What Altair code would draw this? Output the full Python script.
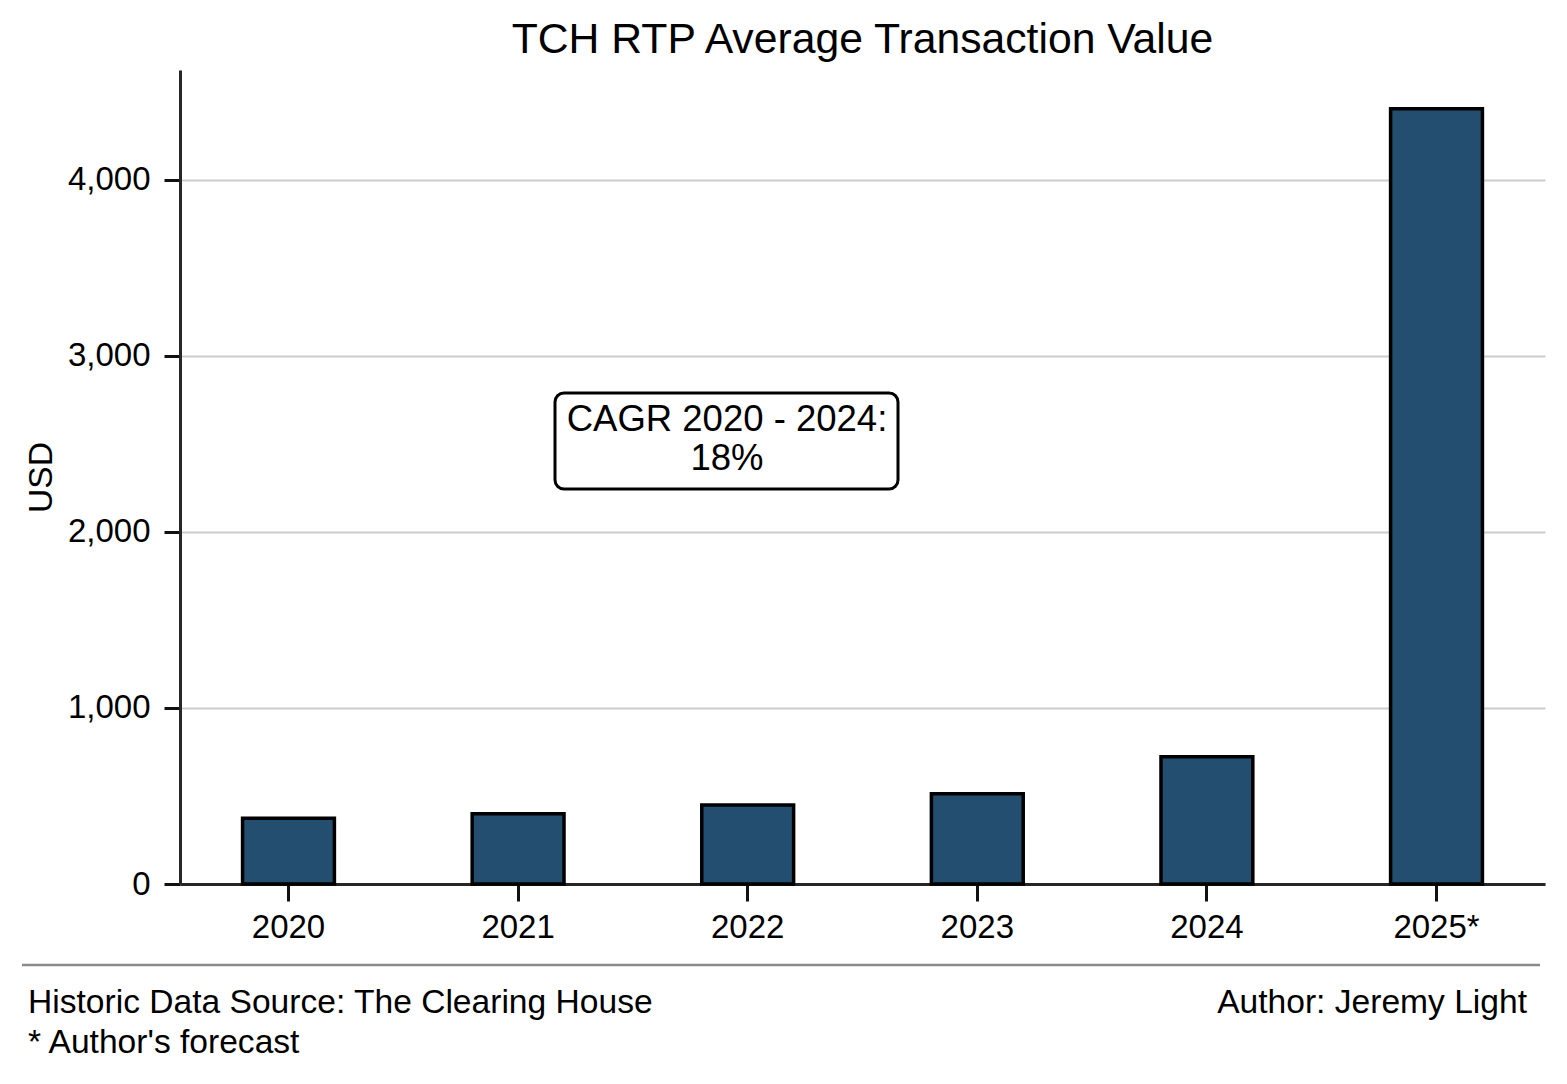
import altair as alt
import pandas as pd

# ---- data ----
years = ["2020", "2021", "2022", "2023", "2024", "2025*"]
values = [374, 399, 448, 513, 723, 4403]
y_ticks = [0, 1000, 2000, 3000, 4000]

title_text = "TCH RTP Average Transaction Value"
y_title = "USD"
source_note = "Historic Data Source: The Clearing House"
forecast_note = "* Author's forecast"
author_note = "Author: Jeremy Light"

cagr = (values[4] / values[0]) ** (1 / 4) - 1
ann_lines = ["CAGR 2020 - 2024:", f"{cagr:.0%}"]

FONT = "Liberation Sans"
W, H = 1365, 814

df = pd.DataFrame({"year": years, "value": values})

bars = alt.Chart(df).mark_bar(color="#234E70", stroke="black", strokeWidth=3.5).encode(
    x=alt.X(
        "year:N",
        sort=years,
        title=None,
        scale=alt.Scale(paddingInner=0.6, paddingOuter=0.2725),
        axis=alt.Axis(labelAngle=0, labelPadding=10, tickSize=17, grid=False),
    ),
    y=alt.Y(
        "value:Q",
        scale=alt.Scale(domain=[0, 4623], nice=False),
        axis=alt.Axis(
            values=y_ticks,
            format=",.0f",
            title=y_title,
            grid=True,
            gridColor="#cccccc",
            gridWidth=2,
            tickSize=16,
            labelPadding=14,
            titlePadding=9,
        ),
    ),
)


def one(text):
    return alt.Chart(pd.DataFrame({"t": [text]}))


box = one("box").mark_rect(
    fill="white", stroke="black", strokeWidth=3, cornerRadius=9
).encode(x=alt.value(375), x2=alt.value(718), y=alt.value(323), y2=alt.value(419))

ann1 = one(ann_lines[0]).mark_text(
    font=FONT, fontSize=36.5, align="center", baseline="middle", color="black"
).encode(x=alt.value(547), y=alt.value(350), text="t:N")
ann2 = one(ann_lines[1]).mark_text(
    font=FONT, fontSize=36.5, align="center", baseline="middle", color="black"
).encode(x=alt.value(547), y=alt.value(389), text="t:N")

sep = one("sep").mark_rule(color="#8a8a8a", strokeWidth=2.5).encode(
    x=alt.value(-158), x2=alt.value(1360), y=alt.value(895)
)

foot1 = one(source_note).mark_text(
    font=FONT, fontSize=33.6, align="left", baseline="middle", color="black"
).encode(x=alt.value(-152), y=alt.value(933), text="t:N")
foot2 = one(forecast_note).mark_text(
    font=FONT, fontSize=33.6, align="left", baseline="middle", color="black"
).encode(x=alt.value(-152), y=alt.value(973), text="t:N")
foot3 = one(author_note).mark_text(
    font=FONT, fontSize=33.6, align="right", baseline="middle", color="black"
).encode(x=alt.value(1347), y=alt.value(933), text="t:N")

chart = (
    alt.layer(bars, box, ann1, ann2, sep, foot1, foot2, foot3)
    .properties(
        width=W,
        height=H,
        title=alt.TitleParams(
            title_text, font=FONT, fontSize=42.7, fontWeight="normal",
            color="black", anchor="middle", offset=8,
        ),
        padding={"left": 172, "top": 62, "right": 10, "bottom": 180},
        autosize=alt.AutoSizeParams(type="none"),
    )
    .configure_view(stroke=None)
    .configure_axis(
        labelFont=FONT,
        titleFont=FONT,
        labelFontSize=33,
        titleFontSize=33.6,
        titleFontWeight="normal",
        labelColor="black",
        titleColor="black",
        domainColor="#262626",
        domainWidth=3,
        tickColor="#111111",
        tickWidth=3,
    )
)

chart.save("out.html", embed_options={"renderer": "svg", "actions": False})
